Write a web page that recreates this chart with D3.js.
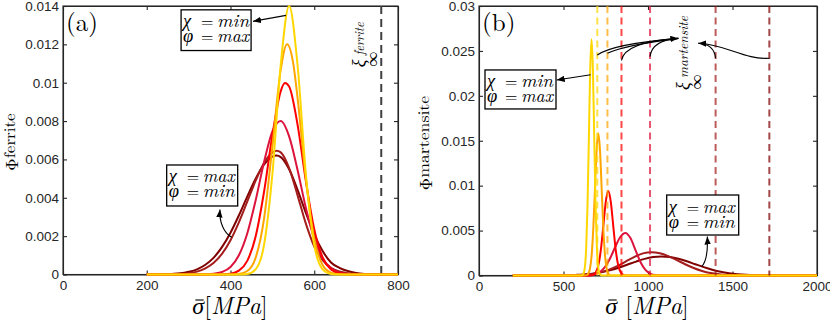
<!DOCTYPE html>
<html lang="en">
<head>
<meta charset="utf-8">
<title>Phi ferrite / martensite</title>
<style>
  body { margin: 0; background: #fff; }
  svg text { fill: #262626; }
  .axis { color: #262626; }
  .axis text { font-size: 13.5px; fill: #262626; }
  .axis .domain, .axis line { stroke: #262626; stroke-width: 1.1; }
  .frame { fill: none; stroke: #262626; stroke-width: 1.1; }
  .curve { fill: none; stroke-width: 2; }
  .note { fill: none; stroke: #000; stroke-width: 1.1; }
  .box { fill: #fff; stroke: #000; stroke-width: 1.3; }
  .it { font-style: italic; }
</style>
</head>
<body>
<svg id="chart" width="830" height="321"></svg>
<script src="https://d3js.org/d3.v7.min.js"></script>
<script>

// tick values
var sigmaTicksF = [0, 200, 400, 600, 800];
var phiTicksF = [0, 0.002, 0.004, 0.006, 0.008, 0.01, 0.012, 0.014];
var sigmaTicksM = [0, 500, 1000, 1500, 2000];
var phiTicksM = [0, 0.005, 0.01, 0.015, 0.02, 0.025, 0.03];

// ferrite curves [sigma, phi], chi = max (maroon) ... chi = min (gold)
var ferriteMaroon = [[200,0],[220,0],[240,0.00001],[260,0.00003],[280,0.00006],[300,0.00014],[320,0.00027],[340,0.00051],[360,0.00088],[380,0.00144],[400,0.00218],[420,0.00308],[440,0.00406],[460,0.00499],[480,0.00573],[500,0.00615],[510,0.0062],[520,0.00612],[540,0.00549],[560,0.00443],[580,0.00321],[600,0.00209],[620,0.00122],[640,0.00063],[660,0.00035],[680,0.00018],[700,0.00008],[720,0.00003],[740,0.00001],[760,0],[800,0]];
var ferriteBrown = [[200,0],[240,0],[260,0.00001],[280,0.00003],[300,0.00007],[320,0.00015],[340,0.00032],[360,0.00061],[380,0.00109],[400,0.00179],[420,0.00272],[440,0.0038],[460,0.00489],[480,0.00581],[500,0.00636],[510,0.00645],[520,0.00637],[540,0.00555],[560,0.00414],[580,0.00265],[600,0.00146],[620,0.00075],[640,0.00035],[660,0.00016],[680,0.00007],[700,0.00003],[720,0.00001],[740,0],[800,0]];
var ferriteCrimson = [[200,0],[320,0],[340,0.00001],[360,0.00004],[380,0.00013],[400,0.00039],[420,0.001],[440,0.00214],[460,0.00386],[480,0.00585],[500,0.00746],[520,0.008],[540,0.0072],[560,0.00546],[580,0.00347],[600,0.00186],[620,0.00084],[640,0.00032],[660,0.0001],[680,0.00003],[700,0.00001],[720,0],[800,0]];
var ferriteRed = [[200,0],[360,0],[380,0.00001],[400,0.00004],[420,0.0002],[440,0.00071],[460,0.00198],[480,0.0043],[500,0.00726],[520,0.00956],[530,0.00998],[540,0.0098],[560,0.00783],[580,0.00487],[600,0.00236],[620,0.00089],[640,0.00026],[660,0.00006],[680,0.00001],[700,0],[800,0]];
var ferriteOrange = [[200,0],[400,0],[420,0.00003],[440,0.00018],[460,0.00087],[480,0.00289],[500,0.00667],[520,0.01068],[535,0.012],[550,0.01098],[560,0.00924],[580,0.00499],[600,0.00187],[620,0.00049],[640,0.00009],[660,0.00001],[680,0],[800,0]];
var ferriteGold = [[200,0],[420,0],[440,0.00003],[460,0.00027],[480,0.00153],[500,0.00523],[520,0.01095],[540,0.014],[560,0.01095],[580,0.00523],[600,0.00153],[620,0.00027],[640,0.00003],[660,0],[800,0]];

// martensite curves [sigma, phi]
var martMaroon = [[200,0],[530,0],[580,0.00007],[630,0.00013],[680,0.00023],[730,0.00039],[780,0.00061],[830,0.00089],[880,0.00122],[930,0.00155],[980,0.00185],[1030,0.00205],[1080,0.00212],[1130,0.00205],[1180,0.00186],[1230,0.00158],[1280,0.00125],[1330,0.00093],[1380,0.00065],[1430,0.00042],[1480,0.00026],[1530,0.00015],[1580,0.00008],[1630,0.00004],[1680,0.00002],[1730,0],[2000,0]];
var martBrown = [[200,0],[520,0],[570,0.00003],[620,0.00007],[670,0.00017],[720,0.00035],[770,0.00065],[820,0.00107],[870,0.00158],[920,0.00208],[970,0.00246],[1020,0.0026],[1070,0.00248],[1120,0.00216],[1170,0.00172],[1220,0.00125],[1270,0.00083],[1320,0.0005],[1370,0.00027],[1420,0.00014],[1470,0.00006],[1520,0.00003],[1570,0.00001],[1620,0],[2000,0]];
var martCrimson = [[200,0],[596,0],[626,0.00001],[656,0.00004],[686,0.00013],[716,0.00039],[746,0.00095],[776,0.00192],[806,0.00317],[836,0.00429],[866,0.00474],[896,0.00417],[926,0.00283],[956,0.00148],[986,0.0006],[1016,0.00019],[1046,0.00005],[1076,0.00001],[1106,0],[2000,0]];
var martRed = [[200,0],[645,0],[660,0.00001],[675,0.00006],[690,0.0003],[705,0.00102],[720,0.0027],[735,0.0054],[750,0.00818],[765,0.0094],[780,0.00818],[795,0.0054],[810,0.0027],[825,0.00102],[840,0.0003],[855,0.00006],[870,0.00001],[885,0],[2000,0]];
var martOrange = [[200,0],[626,0],[636,0.00004],[646,0.00018],[656,0.00069],[666,0.00214],[676,0.00513],[686,0.00958],[696,0.01394],[706,0.0158],[716,0.01394],[726,0.00958],[736,0.00513],[746,0.00214],[756,0.00069],[766,0.00018],[776,0.00004],[786,0],[2000,0]];
var martGold = [[200,0],[596,0],[606,0.00001],[616,0.00013],[626,0.00086],[634,0.00295],[642,0.00769],[650,0.01522],[658,0.02294],[666,0.0263],[674,0.02294],[682,0.01522],[690,0.00769],[698,0.00295],[706,0.00086],[716,0.00013],[726,0.00001],[736,0],[2000,0]];

// xi_infinity
var xiFerrite = 760;
var xiMartensite = [700, 760, 843, 1012, 1400, 1718];

var ferriteCurves = [ferriteMaroon, ferriteBrown, ferriteCrimson, ferriteRed, ferriteOrange, ferriteGold];
var martCurves = [martMaroon, martBrown, martCrimson, martRed, martOrange, martGold];
var palette = ["#800000", "#a41c1c", "#dc143c", "#ff0000", "#ffa500", "#ffd700"];

// pick the first serif face that is really installed
function pickFont(list) {
	var ctx = document.createElement("canvas").getContext("2d");
	var probe = "mmmwwwiiilll0123456789 (ab) MPa";
	for (var i = 0; i < list.length; i++) {
		var differs = ["monospace", "sans-serif"].every(function(base) {
			ctx.font = "24px " + base;
			var w0 = ctx.measureText(probe).width;
			ctx.font = "24px \"" + list[i] + "\", " + base;
			return ctx.measureText(probe).width !== w0;
		});
		if (differs) return "\"" + list[i] + "\"";
	}
	return "serif";
}
var serifFont = pickFont(["Latin Modern Roman", "CMU Serif", "Liberation Serif", "Tinos", "Times New Roman", "Nimbus Roman", "FreeSerif", "Noto Serif", "DejaVu Serif"]);

var svg = d3.select("#chart").style("font-family", serifFont);

// arrow head
svg.append("defs").append("marker")
	.attr("id", "arrow")
	.attr("viewBox", "0 0 10 8")
	.attr("refX", 10).attr("refY", 4)
	.attr("markerWidth", 8).attr("markerHeight", 6.4)
	.attr("markerUnits", "userSpaceOnUse")
	.attr("orient", "auto")
	.append("path").attr("d", "M0,0 L10,4 L0,8 z").attr("fill", "#000");

function fmt(d) { return String(d); }

// one set of axes with a MATLAB style box
function drawAxes(g, x, y, xTicks, yTicks) {
	var x0 = x.range()[0], x1 = x.range()[1], y0 = y.range()[1], y1 = y.range()[0];
	g.append("g").attr("class", "axis").attr("transform", "translate(0," + y1 + ")")
		.call(d3.axisBottom(x).tickValues(xTicks).tickSize(-4).tickSizeOuter(0).tickPadding(6).tickFormat(fmt));
	g.append("g").attr("class", "axis").attr("transform", "translate(0," + y0 + ")")
		.call(d3.axisTop(x).tickValues(xTicks).tickSize(-4).tickSizeOuter(0).tickFormat(""));
	g.append("g").attr("class", "axis").attr("transform", "translate(" + x0 + ",0)")
		.call(d3.axisLeft(y).tickValues(yTicks).tickSize(-4).tickSizeOuter(0).tickPadding(4).tickFormat(fmt));
	g.append("g").attr("class", "axis").attr("transform", "translate(" + x1 + ",0)")
		.call(d3.axisRight(y).tickValues(yTicks).tickSize(-4).tickSizeOuter(0).tickFormat(""));
	g.append("rect").attr("class", "frame")
		.attr("x", x0).attr("y", y0).attr("width", x1 - x0).attr("height", y1 - y0);
}

function drawCurves(g, x, y, curves) {
	var line = d3.line()
		.x(function(d) { return x(d[0]); })
		.y(function(d) { return y(d[1]); })
		.curve(d3.curveMonotoneX);
	g.selectAll("path.curve")
		.data(curves)
		.enter().append("path")
		.attr("class", "curve")
		.attr("stroke", function(d, i) { return palette[i]; })
		.attr("d", line);
}

// two-line box "greek = word"
function mathBox(g, px, py, w, h, lines) {
	g.append("rect").attr("class", "box").attr("x", px).attr("y", py).attr("width", w).attr("height", h);
	lines.forEach(function(l, i) {
		var t = g.append("text").attr("y", py + 17.5 + i * 15).style("font-size", "18.5px").style("fill", "#000");
		t.append("tspan").attr("class", "it").attr("x", px + 2).text(l[0]);
		t.append("tspan").attr("x", px + 20).style("font-size", "16px").text("=");
		t.append("tspan").attr("class", "it").attr("x", px + 36)
			.attr("textLength", 32).attr("lengthAdjust", "spacingAndGlyphs").text(l[1]);
	});
}

function xiLabel(g, px, py, sup, supLen) {
	var t = g.append("g").attr("transform", "translate(" + px + "," + py + ") rotate(-90)");
	t.append("text").attr("class", "it").attr("x", 0).attr("y", 0).style("font-size", "18px").style("fill", "#000").text("\u03BE");
	t.append("text").attr("x", 0.5).attr("y", 12).style("font-size", "15px").style("fill", "#000").text("\u221E");
	t.append("text").attr("class", "it").attr("x", 12).attr("y", -1).style("font-size", "14px").style("fill", "#000")
		.attr("textLength", supLen).attr("lengthAdjust", "spacingAndGlyphs").text(sup);
}

function yTitle(px, py, sup, supLen) {
	var t = svg.append("text").attr("transform", "translate(" + px + "," + py + ") rotate(-90)")
		.attr("text-anchor", "middle").style("fill", "#000");
	t.append("tspan").style("font-size", "17px").text("\u03A6");
	t.append("tspan").attr("dy", -3.5).style("font-size", "15px")
		.attr("textLength", supLen).attr("lengthAdjust", "spacingAndGlyphs").text(sup);
}

function xTitle(px, py, gap) {
	var t = svg.append("text").attr("x", px).attr("y", py).attr("text-anchor", "middle")
		.style("font-size", "24px").style("fill", "#000");
	t.append("tspan").style("font-style", "italic").text("\u03C3");
	t.append("tspan").text(gap + "[");
	t.append("tspan").attr("class", "it").text("MPa");
	t.append("tspan").text("]");
	// bar over sigma
	var box = t.node().getExtentOfChar(0);
	svg.append("line")
		.attr("x1", box.x + 3).attr("x2", box.x + box.width - 0.5)
		.attr("y1", py - 13.5).attr("y2", py - 13.5)
		.attr("stroke", "#000").attr("stroke-width", 1.1);
}

// ---------- (a) ferrite ----------
var xF = d3.scaleLinear().domain([0, 800]).range([63, 398]);
var yF = d3.scaleLinear().domain([0, 0.014]).range([274.5, 6]);
var gF = svg.append("g").attr("id", "ferrite");

drawAxes(gF, xF, yF, sigmaTicksF, phiTicksF);

gF.append("line")
	.attr("x1", xF(xiFerrite)).attr("x2", xF(xiFerrite))
	.attr("y1", yF(0.014)).attr("y2", yF(0))
	.attr("stroke", "#404040").attr("stroke-width", 2).attr("stroke-dasharray", "8,5");

drawCurves(gF, xF, yF, ferriteCurves);

gF.append("text").attr("x", 66).attr("y", 31).style("font-size", "25px").style("fill", "#000").text("(a)");

mathBox(gF, xF(282), yF(0.0138), 70, 40.7, [["\u03C7", "min"], ["\u03C6", "max"]]);
gF.append("path").attr("class", "note").attr("marker-end", "url(#arrow)")
	.attr("d", "M" + xF(532.5) + "," + yF(0.01351) + "L" + xF(453.7) + "," + yF(0.0132));

mathBox(gF, xF(247.6), yF(0.00571), 71, 41, [["\u03C7", "max"], ["\u03C6", "min"]]);
gF.append("path").attr("class", "note").attr("marker-end", "url(#arrow)")
	.attr("d", "M" + xF(402.9) + "," + yF(0.00194) +
		"C" + xF(384.5) + "," + yF(0.00216) + " " + xF(372.5) + "," + yF(0.00274) + " " + xF(374.9) + "," + yF(0.00339));

xiLabel(gF, xF(721), yF(0.0108), "ferrite", 33);

// ---------- (b) martensite ----------
var xM = d3.scaleLinear().domain([0, 2000]).range([479, 817]);
var yM = d3.scaleLinear().domain([0, 0.03]).range([275.5, 6]);
var gM = svg.append("g").attr("id", "martensite");

drawAxes(gM, xM, yM, sigmaTicksM, phiTicksM);

drawCurves(gM, xM, yM, martCurves);

gM.selectAll("line.xi")
	.data(xiMartensite)
	.enter().append("line")
	.attr("class", "xi")
	.attr("x1", function(d) { return xM(d); }).attr("x2", function(d) { return xM(d); })
	.attr("y1", yM(0.03)).attr("y2", yM(0))
	.attr("stroke", function(d, i) { return palette[palette.length - 1 - i]; })
	.attr("stroke-opacity", 0.72).attr("stroke-width", 2).attr("stroke-dasharray", "7,4.5");

gM.append("text").attr("x", 482).attr("y", 31).style("font-size", "25px").style("fill", "#000").text("(b)");

mathBox(gM, xM(35.5), yM(0.02288), 71, 39, [["\u03C7", "min"], ["\u03C6", "max"]]);
gM.append("path").attr("class", "note").attr("marker-end", "url(#arrow)")
	.attr("d", "M" + xM(661) + "," + yM(0.02235) + "L" + xM(459.8) + "," + yM(0.02176));

mathBox(gM, xM(1110.7), yM(0.00896), 72, 40, [["\u03C7", "max"], ["\u03C6", "min"]]);
gM.append("path").attr("class", "note").attr("marker-end", "url(#arrow)")
	.attr("d", "M" + xM(1317.8) + "," + yM(0.001) +
		"C" + xM(1343) + "," + yM(0.0015) + " " + xM(1355) + "," + yM(0.00262) + " " + xM(1351) + "," + yM(0.00434));

// arrows from the xi lines to the label
var tipL = [xM(1179.3), yM(0.0264)], tipR = [xM(1297.6), yM(0.02585)];
var leftArrows = [
	[xiMartensite[0], 0.02454, 787, 0.02577],
	[xiMartensite[1], 0.02474, 864, 0.02566],
	[xiMartensite[2], 0.02393, 860, 0.026],
	[xiMartensite[3], 0.02436, 1023.7, 0.02622]
];
leftArrows.forEach(function(a, i) {
	gM.append("path").attr("class", "note")
		.attr("marker-end", i === 0 ? "url(#arrow)" : null)
		.attr("d", "M" + xM(a[0]) + "," + yM(a[1]) + "Q" + xM(a[2]) + "," + yM(a[3]) + " " + tipL[0] + "," + tipL[1]);
});
gM.append("path").attr("class", "note").attr("marker-end", "url(#arrow)")
	.attr("d", "M" + xM(xiMartensite[4]) + "," + yM(0.02418) + "Q" + xM(1391) + "," + yM(0.02577) + " " + tipR[0] + "," + tipR[1]);
gM.append("path").attr("class", "note")
	.attr("d", "M" + xM(xiMartensite[5]) + "," + yM(0.02418) +
		"C" + xM(1574) + "," + yM(0.02399) + " " + xM(1456) + "," + yM(0.02577) + " " + tipR[0] + "," + tipR[1]);

xiLabel(gM, xM(1242.6), yM(0.02065), "martensite", 62);

// axis titles
yTitle(18, 142, "ferrite", 45);
yTitle(432, 143, "martensite", 82);
xTitle(230, 313.5, "");
xTitle(647, 313.5, " ");

</script>
</body>
</html>
